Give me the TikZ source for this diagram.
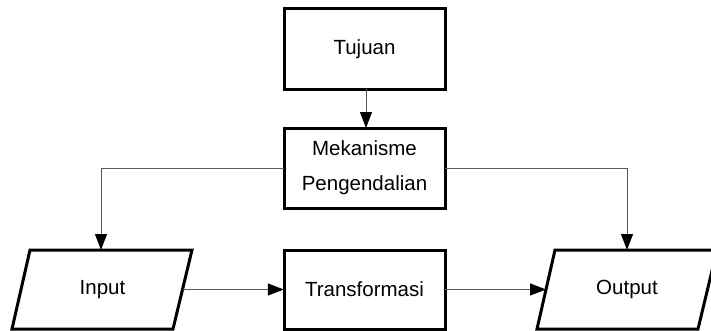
\documentclass[tikz,border=0pt]{standalone}
\usepackage{fontspec}
\setmainfont{Liberation Sans}
\usetikzlibrary{arrows.meta}
\begin{document}
\begin{tikzpicture}[x=1pt,y=1pt,
  boxshape/.style={draw=black, line width=3pt},
  lbl/.style={inner sep=0pt, align=center, font=\fontsize{20.5}{35}\selectfont},
  conn/.style={draw=black!65, line width=1pt, -{Triangle[length=16pt,width=12pt,color=black,fill=black]}}
]
\useasboundingbox (0,0) rectangle (711,330);
\clip (0,0) rectangle (711,330);
% boxes
\draw[boxshape] (284,241) rectangle (445,321);
\node[lbl] (tujuan) at (364.5,281) {Tujuan};
\coordinate (tujB) at (366,241);
\coordinate (mekT) at (366,202);
\draw[boxshape] (284,122) rectangle (445,202);
\node[lbl, minimum width=161pt, minimum height=80pt] (mek) at (364.5,162) {Mekanisme\\Pengendalian};
\draw[boxshape] (284,1) rectangle (445,80);
\node[lbl, minimum width=161pt, minimum height=79pt] (trans) at (364.5,40.5) {Transformasi};
% parallelograms
\draw[boxshape] (12,1) -- (173,1) -- (192,80) -- (30,80) -- cycle;
\node[lbl] (input) at (102.5,40.5) {Input};
\draw[boxshape] (537,1) -- (698,1) -- (717,80) -- (555,80) -- cycle;
\node[lbl] (output) at (627,40.5) {Output};
\coordinate (inTop) at (101,80);
\coordinate (outTop) at (627,80);
\coordinate (inR) at (182.5,40.5);
\coordinate (outL) at (546,40.5);
% connectors
\draw[conn] (tujB) -- (mekT);
\draw[conn] (mek.west) -| (inTop);
\draw[conn] (mek.east) -| (outTop);
\draw[conn] (inR) -- (trans.west);
\draw[conn] (trans.east) -- (outL);
\end{tikzpicture}
\end{document}
